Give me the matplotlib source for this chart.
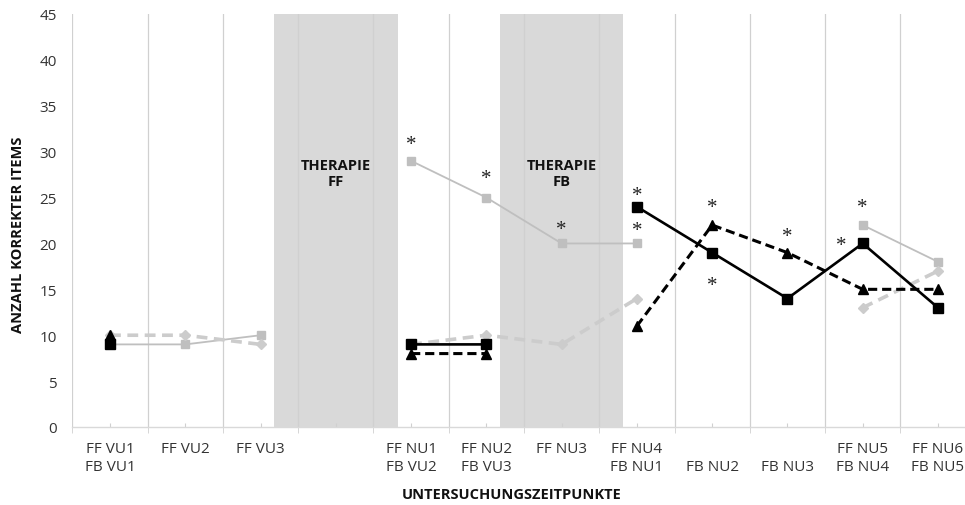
import numpy as np
import matplotlib
matplotlib.use("Agg")
import matplotlib.pyplot as plt
import matplotlib.transforms as mtransforms

plt.rcParams['font.family'] = ['Open Sans', 'DejaVu Sans']

nan = np.nan
categories = ["FF VU1\nFB VU1", "FF VU2", "FF VU3", "", "FF NU1\nFB VU2",
              "FF NU2\nFB VU3", "FF NU3", "FF NU4\nFB NU1", "\nFB NU2",
              "\nFB NU3", "FF NU5\nFB NU4", "FF NU6\nFB NU5"]
gray_solid = [9, 9, 10, nan, 29, 25, 20, 20, nan, nan, 22, 18]
gray_dashed = [10, 10, 9, nan, 9, 10, 9, 14, nan, nan, 13, 17]
black_solid = [9, nan, nan, nan, 9, 9, nan, 24, 19, 14, 20, 13]
black_dashed = [10, nan, nan, nan, 8, 8, nan, 11, 22, 19, 15, 15]

therapy_pos = [3, 6]
therapy_labels = ["THERAPIE\nFF", "THERAPIE\nFB"]
therapy_label_y = 27.7

sig_x = [4, 5, 6, 7, 7, 8, 8, 9, 10, 9.72]
sig_y = [31.2, 27.5, 22.0, 25.7, 21.8, 24.3, 15.8, 21.2, 24.3, 20.2]

y_ticks = list(range(0, 50, 5))

W, H = 965, 506
fig = plt.figure(figsize=(W / 100, H / 100), dpi=100)
ax = fig.add_axes([72.4 / W, 78 / H, 903.2 / W, 413 / H])

x = np.arange(len(categories))

# shaded therapy phases
half = 0.82
for p, lab in zip(therapy_pos, therapy_labels):
    ax.axvspan(p - half, p + half, color='#D9D9D9', zorder=0, lw=0)
    ax.text(p, therapy_label_y, lab, ha='center', va='center', fontsize=10.5,
            fontweight='bold', color='#111111', linespacing=1.15, zorder=5)

# vertical gridlines at category boundaries
for b in np.arange(-0.5, len(categories) + 0.5, 1):
    ax.axvline(b, color='#D0D0D0', lw=0.9, zorder=1)

ax.plot(x, gray_solid, color='#BFBFBF', lw=1.3, marker='s', ms=6,
        zorder=3)
ax.plot(x, gray_dashed, color='#CCCCCC', lw=2.6, ls=(0, (3, 1.8)),
        marker='D', ms=5, zorder=3)
ax.plot(x, black_solid, color='black', lw=1.9, marker='s', ms=6.5,
        zorder=4)
ax.plot(x, black_dashed, color='black', lw=2.2, ls=(0, (3, 1.6)),
        marker='^', ms=7, zorder=4)

star_tr = mtransforms.offset_copy(ax.transData, fig=fig, y=-4, units='dots')
for sx, sy in zip(sig_x, sig_y):
    ax.text(sx, sy, "*", ha='center', va='center', fontsize=15,
            family='Liberation Serif', color='#222222', zorder=6,
            transform=star_tr)

ax.set_xlim(-0.5, len(categories) - 0.5)
ax.set_ylim(0, 45)
ax.set_yticks(y_ticks)
ax.set_yticklabels([str(v) for v in y_ticks])
ax.set_xticks(x)
ax.set_xticklabels(categories, linespacing=1.3)
ax.set_xticks(np.arange(-0.5, len(categories) + 0.5, 1), minor=True)

for s in ['left', 'right', 'top']:
    ax.spines[s].set_visible(False)
ax.spines['bottom'].set_color('#D9D9D9')
ax.spines['bottom'].set_linewidth(1.0)

ax.tick_params(axis='y', length=0, pad=11, labelsize=11, labelcolor='#333333')
ax.tick_params(axis='x', which='major', direction='in', length=3, color='#D0D0D0',
               pad=10, labelsize=11, labelcolor='#333333')
ax.tick_params(axis='x', which='minor', direction='out', length=4, color='#D0D0D0')

fig.text(512 / W, 1 - 495 / H, "UNTERSUCHUNGSZEITPUNKTE", ha='center', va='center',
         fontsize=10.5, fontweight='bold', color='#111111')
fig.text(18 / W, 1 - 235 / H, "ANZAHL KORREKTER ITEMS", ha='center', va='center',
         rotation=90, fontsize=10.5, fontweight='bold', color='#111111')

fig.savefig("out.png", dpi=100)
